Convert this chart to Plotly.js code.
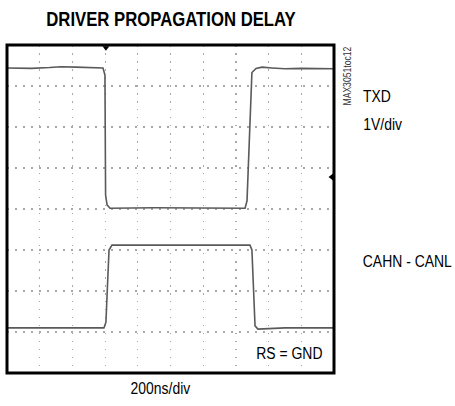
<!DOCTYPE html>
<html>
<head>
<meta charset="utf-8">
<script src="https://cdn.plot.ly/plotly-3.0.1.min.js"></script>
<style>html,body{margin:0;padding:0;background:#fff;}#chart{width:455px;height:406px;}</style>
</head>
<body>
<div id="chart"></div>
<script>
// time in ns (200 ns/div, 10 div), amplitude in divisions (8 div)
const txdTime = [0, 150, 260, 330, 420, 520, 587, 599, 603, 612, 630, 900, 1200, 1456, 1468, 1498, 1523, 1560, 1620, 1700, 1800, 1900, 2000];
const txdLevel = [7.44, 7.43, 7.45, 7.47, 7.46, 7.45, 7.44, 7.27, 4.34, 4.10, 4.02, 4.03, 4.02, 4.02, 4.20, 7.33, 7.43, 7.46, 7.44, 7.42, 7.43, 7.43, 7.42];
const canTime = [0, 300, 593, 605, 624, 642, 900, 1200, 1486, 1498, 1517, 1535, 1700, 2000];
const canLevel = [1.10, 1.10, 1.10, 1.24, 3.00, 3.12, 3.12, 3.12, 3.12, 3.00, 1.15, 1.07, 1.10, 1.10];
const trigTime = [605];
const trigLevel = [4.78];

const FONT = '"Liberation Sans", Arial, sans-serif';
const NARROW = 0.82; // emulate a narrow (condensed) typeface

const traces = [
  {x: txdTime, y: txdLevel, mode: 'lines', line: {color: '#5a5a5a', width: 1.6}, hoverinfo: 'skip', showlegend: false},
  {x: canTime, y: canLevel, mode: 'lines', line: {color: '#5a5a5a', width: 1.6}, hoverinfo: 'skip', showlegend: false},
  {x: trigTime, y: [7.93], mode: 'markers', marker: {symbol: 'triangle-down', size: 6, color: '#000'}, cliponaxis: false, hoverinfo: 'skip', showlegend: false},
  {x: [1985], y: trigLevel, mode: 'markers', marker: {symbol: 'triangle-left', size: 6, color: '#000'}, cliponaxis: false, hoverinfo: 'skip', showlegend: false}
];

const gridStyle = {showgrid: true, gridcolor: '#a8a8a8', gridwidth: 1.2, griddash: '1.5px,6.5px', zeroline: false, showline: false, ticks: '', showticklabels: false, fixedrange: true};

function px2x(px) { return (px - 7) / 327; }
function px2y(py) { return (373 - py) / 328; }
function label(text, cx, cy, size, extra) {
  return Object.assign({text: text, xref: 'paper', yref: 'paper', x: px2x(cx), y: px2y(cy), xanchor: 'center', yanchor: 'middle', showarrow: false, font: {family: FONT, size: size, color: '#000'}}, extra || {});
}

const layout = {
  width: 455, height: 406,
  margin: {l: 7, r: 121, t: 45, b: 33, pad: 0},
  paper_bgcolor: '#fff', plot_bgcolor: '#fff',
  title: {text: '<b>DRIVER PROPAGATION DELAY</b>', x: 171/455, xref: 'container', xanchor: 'center', y: 1 - 19/406, yref: 'container', yanchor: 'middle', font: {family: FONT, size: 20.4, color: '#000'}},
  xaxis: Object.assign({range: [0, 2000], dtick: 200, tick0: 0}, gridStyle),
  yaxis: Object.assign({range: [0, 8], dtick: 1, tick0: 0}, gridStyle),
  shapes: [{type: 'rect', xref: 'paper', yref: 'paper', x0: 0, x1: 1, y0: 0, y1: 1, line: {color: '#000', width: 3}, layer: 'above'}],
  annotations: [
    label('TXD', 377, 96, 17),
    label('1V/div', 382.5, 124, 17),
    label('CAHN - CANL', 407.5, 261, 17),
    label('RS = GND', 289.5, 353.5, 17),
    label('200ns/div', 160, 388, 17),
    label('MAX3051toc12', 347, 76, 10.5, {textangle: -90, font: {family: FONT, size: 10.5, color: '#333'}})
  ]
};

Plotly.newPlot('chart', traces, layout, {staticPlot: true, displayModeBar: false}).then(function (gd) {
  gd.querySelectorAll('.infolayer text, .annotation text').forEach(function (t) {
    const x = parseFloat(t.getAttribute('x') || '0');
    const prev = t.getAttribute('transform') || '';
    t.setAttribute('transform', (prev + ' matrix(' + NARROW + ',0,0,1,' + (x * (1 - NARROW)) + ',0)').trim());
  });
});
</script>
</body>
</html>
